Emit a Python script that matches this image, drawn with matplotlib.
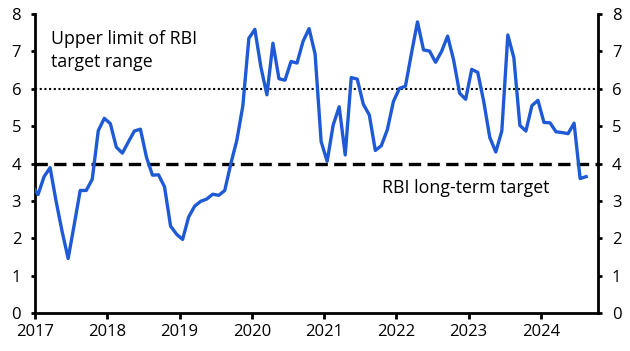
import matplotlib
matplotlib.use("Agg")
import matplotlib.pyplot as plt

# India CPI inflation, % y/y, monthly Dec 2016 - Aug 2024
START_YEAR, START_MONTH = 2016, 12
cpi = [
    3.41,
    3.17, 3.65, 3.89, 2.99, 2.18, 1.46, 2.36, 3.28, 3.28, 3.58, 4.88, 5.21,   # 2017
    5.07, 4.44, 4.28, 4.58, 4.87, 4.92, 4.17, 3.69, 3.70, 3.38, 2.33, 2.11,   # 2018
    1.97, 2.57, 2.86, 2.99, 3.05, 3.18, 3.15, 3.28, 3.99, 4.62, 5.54, 7.35,   # 2019
    7.59, 6.58, 5.84, 7.22, 6.27, 6.23, 6.73, 6.69, 7.27, 7.61, 6.93, 4.59,   # 2020
    4.06, 5.03, 5.52, 4.23, 6.30, 6.26, 5.59, 5.30, 4.35, 4.48, 4.91, 5.66,   # 2021
    6.01, 6.07, 6.95, 7.79, 7.04, 7.01, 6.71, 7.00, 7.41, 6.77, 5.88, 5.72,   # 2022
    6.52, 6.44, 5.66, 4.70, 4.31, 4.87, 7.44, 6.83, 5.02, 4.87, 5.55, 5.69,   # 2023
    5.10, 5.09, 4.85, 4.83, 4.80, 5.08, 3.60, 3.65,                           # 2024
]
UPPER_LIMIT = 6
TARGET = 4
years = list(range(2017, 2025))
yticks = list(range(0, 9))

# mid-month positions in decimal years
x = [START_YEAR + (START_MONTH - 1 + i + 0.5) / 12 for i in range(len(cpi))]

BLUE = "#1f5ad6"
plt.rcParams["font.family"] = ["Open Sans", "DejaVu Sans"]

fig = plt.figure(figsize=(6.3, 3.51), dpi=100)
ax = fig.add_axes([0.0556, 0.108, 0.8937, 0.852])

ax.axhline(UPPER_LIMIT, color="black", lw=1.5, ls=(0, (1, 1.25)), zorder=1)
ax.axhline(TARGET, color="black", lw=2.4, ls=(0, (3.7, 1.9)), zorder=1)
ax.plot(x, cpi, color=BLUE, lw=2.4, zorder=3, solid_joinstyle="round")

ax.set_xlim(2017, 2024.79)
ax.set_ylim(0, 8)
ax.set_xticks(years)
ax.set_xticklabels([str(y) for y in years])
ax.set_yticks(yticks)

for side in ("left", "right", "bottom"):
    ax.spines[side].set_linewidth(2)
ax.spines["top"].set_visible(False)

ax.tick_params(axis="y", direction="out", length=3, width=2, labelsize=12,
               left=True, right=True, labelleft=True, labelright=True, pad=7)
ax.tick_params(axis="x", direction="out", length=4, width=2, labelsize=12, pad=4)

# baseline of the last line of the two-line note
ax.text(2017.22, 6.57, "Upper limit of RBI\ntarget range", fontsize=12.8,
        ha="left", va="baseline", linespacing=1.4)
ax.text(2021.795, 3.21, "RBI long-term target", fontsize=12.8,
        ha="left", va="baseline")

fig.savefig("out.png", dpi=100)
